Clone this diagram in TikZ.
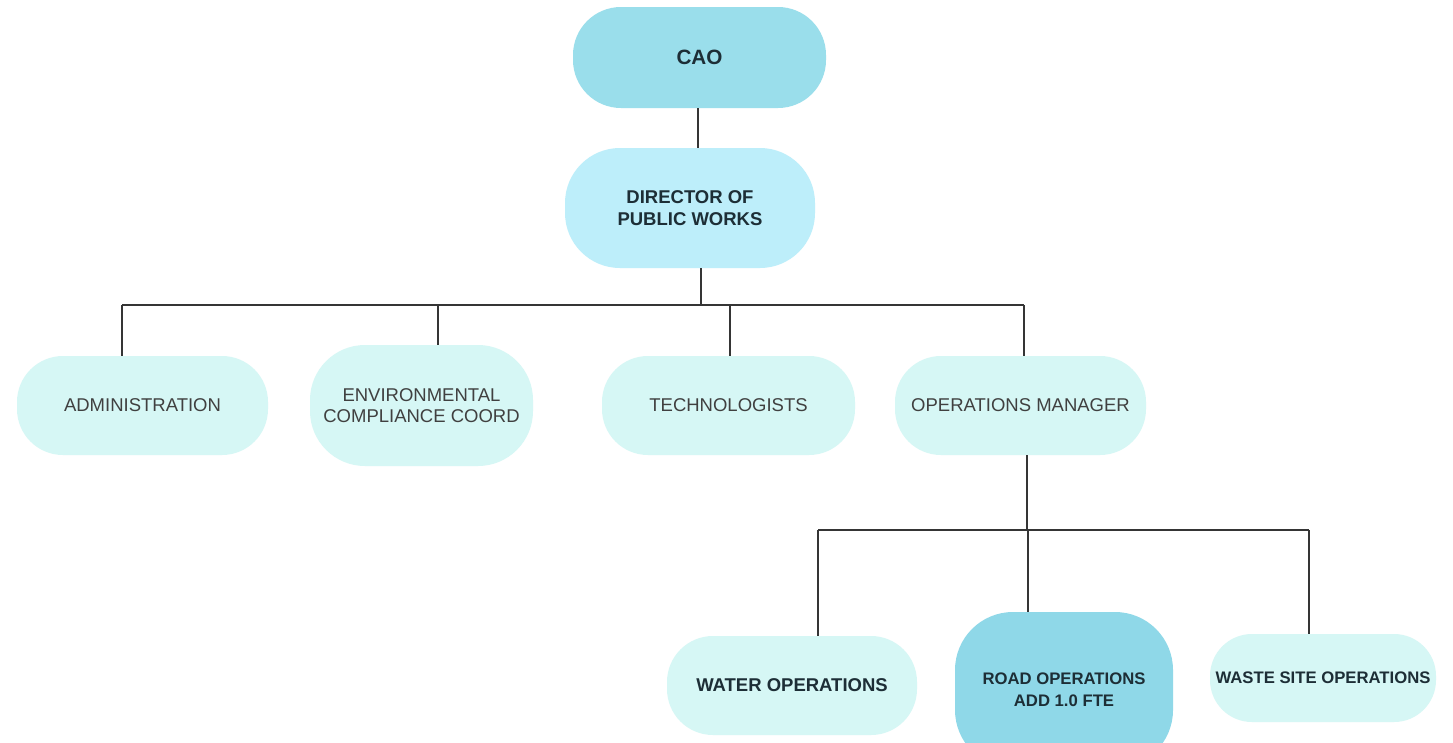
\documentclass[tikz,border=0pt]{standalone}
\usepackage{fontspec}
\setmainfont{Liberation Sans}
\definecolor{caoc}{HTML}{9ADEEB}
\definecolor{dirc}{HTML}{BDEEFA}
\definecolor{lightc}{HTML}{D6F7F5}
\definecolor{roadc}{HTML}{8FD8E8}
\definecolor{linec}{HTML}{353535}
\definecolor{txtc}{HTML}{404040}
\definecolor{boldc}{HTML}{1D2E36}
\begin{document}
\begin{tikzpicture}[x=1pt,y=-1pt,
  box/.style={draw=none, align=center, inner sep=0pt},
  regtxt/.style={text=txtc, font=\fontsize{18.5}{21.5}\selectfont},
  boldtxt/.style={text=boldc, font=\bfseries\fontsize{18.5}{22.5}\selectfont},
  conn/.style={draw=linec, line width=2pt}]
\clip (0,0) rectangle (1453,742);
\fill[white] (0,0) rectangle (1453,742);

% nodes
\node[box, boldtxt, fill=caoc, minimum width=253, minimum height=101, rounded corners=48,
      font=\bfseries\fontsize{20.7}{23}\selectfont] (cao) at (699.5,57.5) {CAO};
\node[box, boldtxt, fill=dirc, minimum width=250, minimum height=120, rounded corners=55] (dir) at (690,208) {DIRECTOR OF\\PUBLIC WORKS};

\node[box, regtxt, fill=lightc, minimum width=251, minimum height=99, rounded corners=46] (adm) at (142.5,405.5) {ADMINISTRATION};
\node[box, regtxt, fill=lightc, minimum width=223, minimum height=121, rounded corners=55] (env) at (421.5,405.5) {ENVIRONMENTAL\\COMPLIANCE COORD};
\node[box, regtxt, fill=lightc, minimum width=253, minimum height=99, rounded corners=46] (tech) at (728.5,405.5) {TECHNOLOGISTS};
\node[box, regtxt, fill=lightc, minimum width=251, minimum height=99, rounded corners=46] (ops) at (1020.5,405.5) {OPERATIONS MANAGER};

\node[box, boldtxt, fill=lightc, minimum width=250, minimum height=99, rounded corners=46] (water) at (792,685.5) {WATER OPERATIONS};
\node[box, boldtxt, fill=roadc, minimum width=218, minimum height=156, rounded corners=58,
      font=\bfseries\fontsize{16.7}{22}\selectfont] (road) at (1064,690) {ROAD OPERATIONS\\ADD 1.0 FTE};
\node[box, boldtxt, fill=lightc, minimum width=226, minimum height=88, rounded corners=42,
      font=\bfseries\fontsize{16.7}{20}\selectfont] (waste) at (1323,678) {WASTE SITE OPERATIONS};

% junction coordinates
\coordinate (x1) at (698,0);
\coordinate (b1) at (701,305);
\coordinate (d1) at (122,305);
\coordinate (d2) at (438,305);
\coordinate (d3) at (730,305);
\coordinate (d4) at (1024,305);
\coordinate (b2) at (1027,530);
\coordinate (e1) at (818,530);
\coordinate (e2) at (1028,530);
\coordinate (e3) at (1309,530);

% connectors
\draw[conn] (cao.south -| x1) -- (dir.north -| x1);
\draw[conn] (dir.south -| b1) -- (b1);
\draw[conn] (d1) -- (d4);
\draw[conn] (d1) -- (adm.north -| d1);
\draw[conn] (d2) -- (env.north -| d2);
\draw[conn] (d3) -- (tech.north -| d3);
\draw[conn] (d4) -- (ops.north -| d4);
\draw[conn] (ops.south -| b2) -- (b2);
\draw[conn] (e1) -- (e3);
\draw[conn] (e1) -- (water.north -| e1);
\draw[conn] (e2) -- (road.north -| e2);
\draw[conn] (e3) -- (waste.north -| e3);
\end{tikzpicture}
\end{document}
